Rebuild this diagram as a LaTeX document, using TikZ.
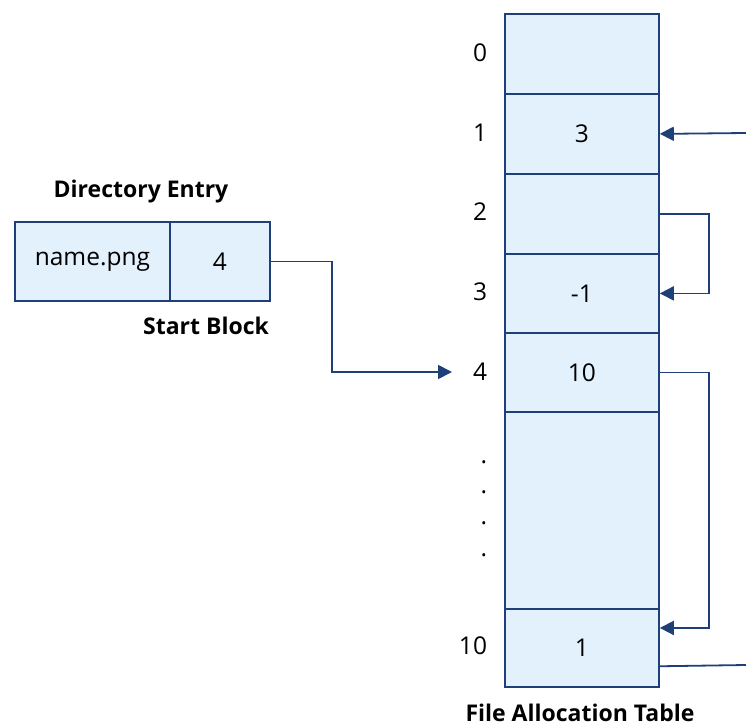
\documentclass[tikz,border=0pt]{standalone}
\usepackage{fontspec}
\setmainfont{Open Sans}
\usetikzlibrary{arrows.meta,calc}
\definecolor{cellfill}{HTML}{E3F1FD}
\definecolor{edge}{HTML}{1F3F78}
\tikzset{
  cell/.style={draw=edge, line width=1.8pt, fill=cellfill, minimum width=154pt, inner sep=0pt, font=\fontsize{24.5}{28}\selectfont},
  idx/.style={font=\fontsize{24.5}{28}\selectfont, inner sep=0pt},
  title/.style={font=\bfseries\fontsize{23}{27}\selectfont, inner sep=0pt},
  link/.style={draw=edge, line width=1.8pt},
  linkarr/.style={link, -{Triangle[length=14pt,width=14pt]}},
}
\begin{document}
\begin{tikzpicture}[x=1pt,y=-1pt]
\useasboundingbox (0,0) rectangle (746,727);
% table cells
\node[cell, minimum height=80pt, anchor=north west] (c0) at (504,13) {};
\node[cell, minimum height=80pt, anchor=north west] (c1) at (504,93) {3};
\node[cell, minimum height=80pt, anchor=north west] (c2) at (504,173) {};
\node[cell, minimum height=79pt, anchor=north west] (c3) at (504,253) {-1};
\node[cell, minimum height=79pt, anchor=north west] (c4) at (504,332) {10};
\node[cell, minimum height=197pt, anchor=north west] (cg) at (504,411) {};
\node[cell, minimum height=78pt, anchor=north west] (c10) at (504,608) {1};
% index labels
\node[idx] (i0) at (480,53) {0};
\node[idx] (i1) at (480,133) {1};
\node[idx] (i2) at (480,212) {2};
\node[idx] (i3) at (480,292) {3};
\node[idx] (i4) at (480,372) {4};
\node[idx] (i10) at (473,646) {10};
\foreach \yy/\nm in {462/d1,492/d2,523/d3,555/d4}
  \node[idx] (\nm) at (484,\yy) {.};
\node[title] (fat) at (580,713) {File Allocation Table};
% directory entry
\node[cell, minimum width=155pt, minimum height=79pt, anchor=north west] (dn) at (14,221) {name.png};
\node[cell, minimum width=100pt, minimum height=79pt, anchor=north west] (ds) at (169,221) {4};
\node[title] (dt) at (141,192) {Directory Entry};
\node[title] (sb) at (206,326) {Start Block};
% pointers
\coordinate (inR) at (746,133);
\coordinate (outR) at (746,665);
\coordinate (tip4) at (452,372);
\coordinate (in10) at ($(c10.north east)!0.25!(c10.south east)$);
\coordinate (out10) at ($(c10.north east)!0.73!(c10.south east)$);
\draw[linkarr] (ds.east) -| (332,372) -- (tip4);
\draw[linkarr] (inR) -- (c1.east);
\draw[linkarr] (c2.east) -- ++(49,0) |- (c3.east);
\draw[linkarr] (c4.east) -- ++(49,0) |- (in10);
\draw[link] (out10) -- (outR);
\end{tikzpicture}
\end{document}
